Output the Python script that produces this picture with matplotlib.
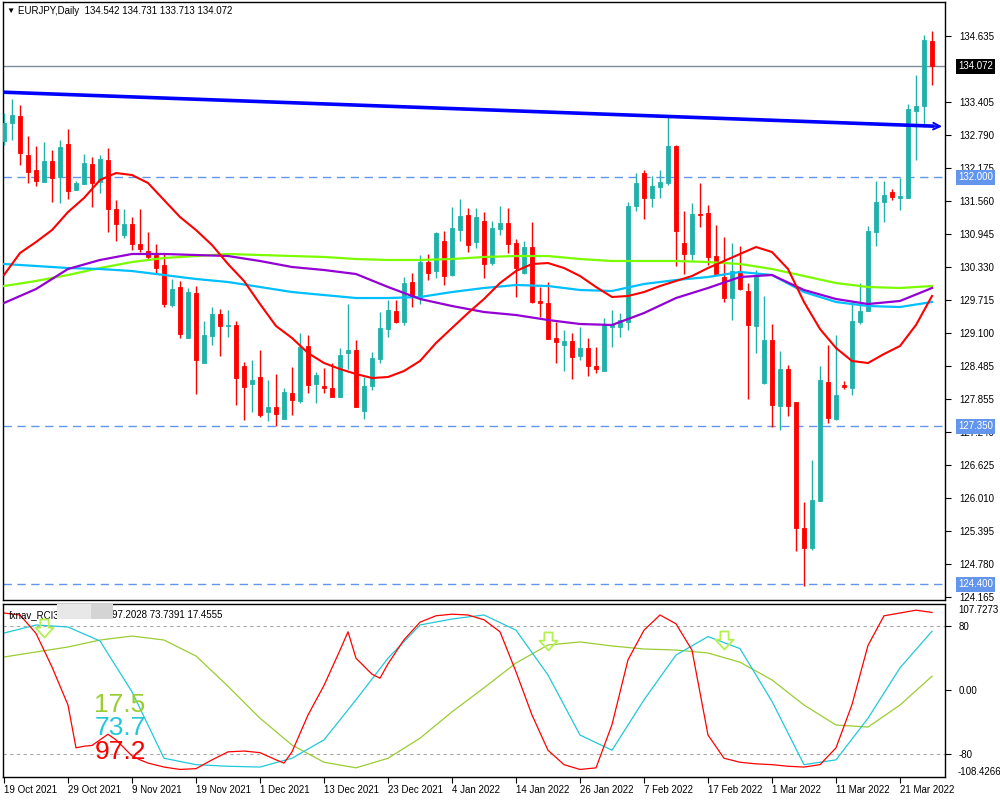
import matplotlib.pyplot as plt
import matplotlib.transforms as mtransforms
from matplotlib.patches import Rectangle
from matplotlib.path import Path
import numpy as np

plt.rcParams['font.family'] = ['Liberation Sans', 'DejaVu Sans']

# ---- EURJPY daily candles (19 Oct 2021 .. 24 Mar 2022) ----
opens = [132.676, 133.011, 133.142, 132.414, 132.134, 131.910, 132.302, 132.004, 132.620, 131.761,
         131.873, 132.246, 131.910, 132.321, 131.406, 130.921, 131.127, 130.753, 130.623, 130.548,
         130.361, 129.615, 129.951, 128.999, 129.839, 128.532, 129.036, 129.447, 129.223, 129.242,
         128.476, 128.140, 128.271, 127.618, 127.711, 127.487, 127.972, 127.823, 128.850, 128.140,
         128.103, 128.066, 127.898, 128.719, 128.775, 127.636, 128.103, 128.607, 129.167, 129.503,
         129.297, 130.044, 129.745, 130.417, 130.249, 130.809, 130.175, 131.014, 131.294, 130.790,
         131.183, 130.398, 131.033, 131.145, 130.772, 130.212, 130.697, 129.690, 129.652, 128.999,
         128.868, 128.943, 128.663, 128.812, 128.476, 128.383, 129.204, 129.204, 129.297, 131.462,
         132.078, 131.612, 131.817, 131.892, 132.582, 130.772, 130.567, 131.313, 131.332, 130.529,
         130.137, 129.745, 130.249, 129.876, 129.223, 128.159, 128.962, 127.730, 128.420, 127.804,
         125.453, 125.080, 125.957, 128.178, 127.487, 128.122, 128.066, 129.297, 129.503, 130.977,
         131.537, 131.724, 131.612, 131.612, 133.235, 133.329, 134.542]
highs = [133.198, 133.459, 133.347, 132.769, 132.582, 132.657, 132.507, 132.694, 132.900, 131.929,
         132.433, 132.377, 132.414, 132.545, 131.574, 131.406, 131.257, 131.406, 130.977, 130.753,
         130.585, 130.100, 130.063, 129.932, 129.969, 129.316, 129.577, 129.540, 129.521, 129.316,
         128.551, 128.588, 128.775, 128.215, 128.327, 128.066, 128.458, 129.092, 129.055, 128.364,
         128.439, 128.532, 128.812, 129.633, 128.962, 128.271, 128.738, 129.484, 129.708, 129.708,
         130.137, 130.212, 130.548, 130.567, 130.977, 130.996, 131.444, 131.593, 131.425, 131.425,
         131.350, 131.183, 131.462, 131.425, 130.846, 130.809, 131.164, 129.951, 130.044, 129.297,
         129.148, 129.092, 129.204, 128.999, 128.831, 129.372, 129.521, 129.465, 131.537, 132.078,
         132.134, 132.022, 132.134, 133.123, 132.601, 131.369, 131.518, 131.892, 131.481, 131.108,
         130.884, 130.772, 130.716, 130.025, 130.268, 129.783, 129.260, 128.756, 128.495, 127.804,
         125.938, 126.722, 128.476, 128.868, 129.055, 128.196, 129.690, 130.025, 131.089, 131.929,
         131.929, 131.780, 131.985, 133.366, 133.907, 134.654, 134.731]
lows = [132.601, 132.694, 132.228, 131.892, 131.836, 131.910, 131.537, 131.518, 131.593, 131.761,
        131.873, 131.444, 131.705, 130.977, 130.809, 130.865, 130.641, 130.604, 130.455, 130.212,
        129.577, 129.577, 128.999, 128.999, 127.954, 128.532, 128.868, 128.663, 129.018, 127.748,
        127.468, 127.618, 127.524, 127.450, 127.357, 127.487, 127.562, 127.785, 127.972, 127.785,
        127.972, 127.898, 127.898, 128.420, 127.711, 127.487, 128.028, 128.532, 129.018, 129.279,
        129.242, 129.577, 129.633, 130.081, 130.119, 129.988, 130.156, 130.809, 130.604, 130.679,
        130.119, 130.361, 130.921, 130.585, 129.764, 130.193, 129.652, 129.391, 128.980, 128.532,
        128.383, 128.233, 128.588, 128.289, 128.345, 128.383, 128.831, 129.018, 129.148, 131.369,
        131.220, 131.444, 131.612, 131.854, 130.343, 130.193, 130.455, 131.070, 130.361, 130.175,
        129.671, 129.335, 129.895, 127.860, 128.719, 128.140, 127.338, 127.282, 127.543, 125.024,
        124.370, 125.042, 125.957, 127.412, 127.468, 128.047, 127.935, 129.260, 129.503, 130.716,
        131.164, 131.574, 131.388, 131.612, 132.321, 132.937, 133.713]
closes = [133.011, 133.161, 132.452, 132.097, 131.929, 132.302, 131.985, 132.564, 131.742, 131.892,
          132.265, 131.892, 132.340, 131.406, 131.127, 131.127, 130.753, 130.660, 130.511, 130.305,
          129.633, 129.913, 129.074, 129.857, 128.588, 129.055, 129.447, 129.223, 129.242, 128.252,
          128.084, 128.215, 127.562, 127.711, 127.580, 127.991, 127.842, 128.831, 128.122, 128.308,
          128.066, 127.898, 128.682, 128.775, 127.711, 128.103, 128.626, 129.186, 129.521, 129.297,
          130.025, 129.783, 130.417, 130.212, 130.958, 130.156, 131.052, 131.276, 130.734, 131.257,
          130.380, 131.052, 131.145, 130.753, 130.305, 130.697, 129.671, 129.652, 128.980, 128.924,
          128.943, 128.644, 128.812, 128.476, 128.420, 129.242, 129.242, 129.335, 131.462, 131.892,
          131.612, 131.836, 131.910, 132.582, 130.996, 130.567, 131.313, 131.294, 130.511, 130.193,
          129.745, 130.249, 129.913, 129.242, 130.175, 128.962, 127.748, 128.420, 127.730, 125.453,
          125.080, 125.976, 128.215, 127.506, 127.935, 128.084, 129.316, 129.503, 130.996, 131.537,
          131.668, 131.630, 131.649, 133.273, 133.329, 134.561, 134.072]

date_labels = ['19 Oct 2021', '29 Oct 2021', '9 Nov 2021', '19 Nov 2021', '1 Dec 2021',
               '13 Dec 2021', '23 Dec 2021', '4 Jan 2022', '14 Jan 2022', '26 Jan 2022',
               '7 Feb 2022', '17 Feb 2022', '1 Mar 2022', '11 Mar 2022', '21 Mar 2022']
date_idx = list(range(0, 113, 8))

# fast moving average (red), read every 2 bars
ma_fast_idx = list(range(0, 117, 2))
ma_red = [130.175, 130.585, 130.790, 131.014, 131.350, 131.612, 131.948, 132.078, 132.041, 131.892,
          131.574, 131.257, 131.014, 130.734, 130.380, 130.063, 129.633, 129.223, 128.999, 128.719,
          128.532, 128.420, 128.327, 128.252, 128.271, 128.383, 128.570, 128.906, 129.186, 129.465,
          129.727, 130.025, 130.249, 130.380, 130.398, 130.305, 130.156, 129.951, 129.764, 129.783,
          129.857, 129.969, 130.063, 130.156, 130.305, 130.436, 130.567, 130.697, 130.604, 130.287,
          129.671, 129.167, 128.812, 128.570, 128.532, 128.700, 128.850, 129.242, 129.783]
# slower moving averages, read every 4 bars
ma_idx = list(range(0, 117, 4))
ma_purple = [129.652, 129.913, 130.287, 130.455, 130.567, 130.567, 130.548, 130.529, 130.436, 130.324,
             130.268, 130.193, 129.951, 129.727, 129.596, 129.484, 129.428, 129.335, 129.260, 129.242,
             129.465, 129.745, 129.932, 130.137, 130.175, 129.895, 129.727, 129.633, 129.690, 129.932]
ma_blue = [130.380, 130.343, 130.305, 130.287, 130.249, 130.175, 130.100, 130.044, 129.951, 129.857,
           129.801, 129.745, 129.745, 129.764, 129.857, 129.932, 129.988, 129.969, 129.895, 129.876,
           130.007, 130.081, 130.137, 130.231, 130.175, 129.857, 129.671, 129.596, 129.577, 129.671]
ma_green = [129.969, 130.063, 130.175, 130.305, 130.417, 130.492, 130.529, 130.567, 130.548, 130.529,
            130.511, 130.473, 130.455, 130.455, 130.473, 130.511, 130.529, 130.529, 130.473, 130.436,
            130.436, 130.436, 130.417, 130.380, 130.287, 130.156, 130.025, 129.951, 129.932, 129.969]

# trend line anchors (bar, price)
trend_bars = [0, 116]
trend_prices = [133.586, 132.954]

price_ticks = [134.635, 133.405, 132.790, 132.175, 131.560, 130.945, 130.330, 129.715, 129.100,
               128.485, 127.855, 127.240, 126.625, 126.010, 125.395, 124.780, 124.165]
level_lines = [132.000, 127.350, 124.400]
last_price = 134.072

# RCI indicator
rci_fast_idx = [0, 2, 4, 6, 8, 9, 10, 11, 12, 13, 14, 15, 16, 17, 18, 20, 22, 24, 26, 28, 30, 32, 34,
                35, 36, 38, 40, 42, 43, 44, 46, 47, 48, 50, 52, 54, 56, 58, 60, 62, 64, 66, 68, 70, 72,
                74, 76, 78, 80, 82, 84, 86, 88, 90, 92, 94, 96, 98, 100, 102, 104, 106, 108, 110, 112,
                114, 116]
rci_fast = [96.5, 94, 71, 29, -18.5, -72, -70, -69, -62, -55, -62, -72, -82, -87, -91, -96, -99, -98,
            -87, -77, -76, -78, -87, -91, -77, -31, 6, 50, 73, 40, 20, 15, 33, 63, 85, 93, 95, 94, 88,
            73, 23, -31, -75, -93, -99, -97, -43, 38, 75, 94, 83, 50, -56, -85, -90, -92, -93, -95,
            -96, -93, -72, -18, 56, 93, 96.5, 100, 97.2]
rci_idx = list(range(0, 117, 4))
rci_mid = [71.4, 81.5, 79, 61.5, -2, -85, -93, -95, -96, -85, -62, -12, 40, 81.5, 89, 94, 75, 19,
           -56, -75, -12, 44, 67, 52, -14, -93, -87, -35, 28, 73.7]
rci_slow = [41.5, 47.8, 54, 62.7, 67.7, 62.7, 42.7, 5, -35, -68.5, -90, -97, -85, -60, -27, 3, 34,
            56.5, 60.3, 55.3, 51.5, 50.2, 46.5, 35, 12.8, -18.5, -43.5, -46, -18.5, 17.5]
rci_last = ['97.2028', '73.7391', '17.4555']
signal_bars = [5, 68, 90]
signal_vals = [78, 61.5, 62.7]
rci_max, rci_min = 107.7273, -108.4266

UP = '#20B2AA'
DOWN = '#FF0000'
BOX_BLUE = '#6495ED'

fig = plt.figure(figsize=(10, 8), dpi=100)
ax = fig.add_axes([0.003, 0.25, 0.942, 0.7475])
ax2 = fig.add_axes([0.003, 0.02875, 0.942, 0.21625])

idx = np.arange(len(closes))
o = np.array(opens)
c = np.array(closes)
colors = [UP if cc >= oo else DOWN for oo, cc in zip(o, c)]

# candles
ax.vlines(idx, lows, highs, colors=colors, lw=1, zorder=3)
ax.bar(idx, np.abs(c - o), bottom=np.minimum(o, c), width=0.6, color=colors,
       edgecolor=colors, lw=0.6, zorder=4)

# moving averages
ax.plot(ma_idx, ma_green, color='#7CFC00', lw=1.6, zorder=5)
ax.plot(ma_idx, ma_blue, color='#00BFFF', lw=1.6, zorder=5)
ax.plot(ma_idx, ma_purple, color='#9400D3', lw=1.6, zorder=5)
ax.plot(ma_fast_idx, ma_red, color='#FF0000', lw=1.5, zorder=5)

# trend ray
slope = (trend_prices[1] - trend_prices[0]) / (trend_bars[1] - trend_bars[0])
x0, x1 = -0.125, 116.3
ax.plot([x0, x1], [trend_prices[0] + slope * x0, trend_prices[0] + slope * x1],
        color='#0000FF', lw=2.6, zorder=6, solid_capstyle='butt')
ax.annotate('', xy=(117.6, trend_prices[0] + slope * 117.6),
            xytext=(115.5, trend_prices[0] + slope * 115.5),
            arrowprops=dict(arrowstyle='->', color='#0000FF', lw=1.4, mutation_scale=12),
            zorder=6, annotation_clip=False)

# horizontal levels
ax.axhline(last_price, color='#7F8C99', lw=1, zorder=2)
for lv in level_lines:
    ax.axhline(lv, color=BOX_BLUE, lw=1, ls=(0, (6, 4)), zorder=2)

ax.set_xlim(-0.125, 117.625)
ax.set_ylim(124.109, 135.270)
ax.set_xticks([])
ax.yaxis.tick_right()
ax.set_yticks(price_ticks)
ax.set_yticklabels([f'{v:.3f}' for v in price_ticks])
ax.tick_params(axis='y', length=4, pad=6, labelsize=7, width=0.8)

trans = mtransforms.blended_transform_factory(fig.transFigure, ax.transData)
ax.text(0.958, last_price, f'{last_price:.3f}', transform=trans, ha='left', va='center',
        fontsize=7, color='white', zorder=10, clip_on=False,
        bbox=dict(boxstyle='square,pad=0.25', fc='black', ec='none'))
for lv in level_lines:
    ax.text(0.958, lv, f'{lv:.3f}', transform=trans, ha='left', va='center', fontsize=7,
            color='white', zorder=10, clip_on=False,
            bbox=dict(boxstyle='square,pad=0.25', fc=BOX_BLUE, ec='none'))

fig.text(0.006, 1 - 11 / 800, '\u25bc', fontsize=6, va='center', ha='left')
fig.text(0.018, 1 - 11 / 800, 'EURJPY,Daily  %.3f %.3f %.3f %.3f' % (opens[-1], highs[-1], lows[-1], closes[-1]),
         fontsize=7, va='center', ha='left')

# indicator panel
ax2.axhline(80, color='#A8A8A8', lw=0.8, ls=(0, (3, 3)))
ax2.axhline(-80, color='#A8A8A8', lw=0.8, ls=(0, (3, 3)))
ax2.plot(rci_idx, rci_slow, color='#9ACD32', lw=0.9)
ax2.plot(rci_idx, rci_mid, color='#22C8D8', lw=0.9)
ax2.plot(rci_fast_idx, rci_fast, color='#FF0000', lw=0.9)

# hollow down-arrow signal markers
arrow = Path([(-0.25, 0.55), (0.25, 0.55), (0.25, 0.05), (0.55, 0.05), (0.0, -0.55),
              (-0.55, 0.05), (-0.25, 0.05), (-0.25, 0.55)],
             [Path.MOVETO] + [Path.LINETO] * 6 + [Path.CLOSEPOLY])
ax2.plot(signal_bars, signal_vals, ls='none', marker=arrow, markersize=13,
         mfc='none', mec='#B4F050', mew=1.3, zorder=6)

ax2.set_xlim(-0.125, 117.625)
ax2.set_ylim(rci_min, rci_max)
ax2.yaxis.tick_right()
ax2.set_yticks([80, 0, -80])
ax2.set_yticklabels(['80', '0.00', '-80'])
ax2.tick_params(axis='y', length=4, pad=6, labelsize=7, width=0.8)
ax2.set_xticks(date_idx)
ax2.set_xticklabels(date_labels)
ax2.tick_params(axis='x', length=4, pad=2, labelsize=7, width=0.8)
for lbl in ax2.get_xticklabels():
    lbl.set_ha('left')

fig.text(0.958, 1 - 610 / 800, f'{rci_max}', fontsize=7, va='center', ha='left')
fig.text(0.958, 1 - 772 / 800, f'{rci_min}', fontsize=7, va='center', ha='left')

ax2.text(0.006, 0.965, 'fxnav_RCI3', transform=ax2.transAxes, fontsize=7, va='top', ha='left')
ax2.text(0.116, 0.965, ' '.join(rci_last), transform=ax2.transAxes, fontsize=7, va='top', ha='left')
# blurred-out label area
fig.patches.append(Rectangle((0.057, 1 - 619 / 800), 0.034, 15 / 800, transform=fig.transFigure,
                             fc='#E8E8E8', ec='none', zorder=5))
fig.patches.append(Rectangle((0.091, 1 - 619 / 800), 0.022, 15 / 800, transform=fig.transFigure,
                             fc='#D4D4D4', ec='none', zorder=5))

# current RCI values
ax2.text(11.3, -18, f'{rci_slow[-1]:.1f}', color='#9ACD32', fontsize=19, ha='left', va='center')
ax2.text(11.3, -47, f'{rci_mid[-1]:.1f}', color='#22C8D8', fontsize=19, ha='left', va='center')
ax2.text(11.3, -77, f'{rci_fast[-1]:.1f}', color='#FF0000', fontsize=19, ha='left', va='center')

for a in (ax, ax2):
    for s in a.spines.values():
        s.set_color('black')
        s.set_linewidth(1)

fig.savefig('out.png', dpi=100, facecolor='white')
